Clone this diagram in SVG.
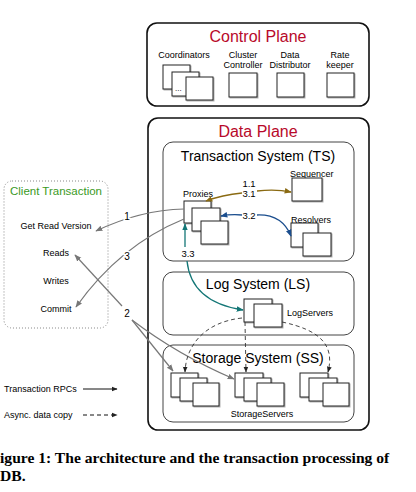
<svg xmlns="http://www.w3.org/2000/svg" width="416" height="492" viewBox="0 0 416 492">
<style>
text{font-family:"Liberation Sans",Arial,sans-serif;fill:#000}
.t9{font-size:9px}
.sm{font-size:9px;text-anchor:middle}
.title{font-size:16px;fill:#b8092a;text-anchor:middle}
.sys{font-size:14px;text-anchor:middle}
.plane{fill:#fff;stroke:#111;stroke-width:1.6}
.sysbox{fill:none;stroke:#444;stroke-width:1}
.box{fill:#fff;stroke:#222;stroke-width:1;filter:drop-shadow(1px 1px 0.6px rgba(0,0,0,0.3))}
.lbl{font-size:10px;text-anchor:middle;stroke:#fff;stroke-width:3;paint-order:stroke}
.num{font-size:9.5px;text-anchor:middle}
.gray{fill:none;stroke:#777;stroke-width:1.2}
.gold{fill:none;stroke:#8a6a12;stroke-width:1.3}
.blue{fill:none;stroke:#1b4e8e;stroke-width:1.3}
.teal{fill:none;stroke:#137676;stroke-width:1.3}
.dash{fill:none;stroke:#333;stroke-width:0.9;stroke-dasharray:4 3}
.leg{fill:none;stroke:#111;stroke-width:1}
.cap{font-family:"Liberation Serif","Times New Roman",serif;font-weight:bold;font-size:15.6px}
</style>
<defs>
<marker id="mg" viewBox="0 0 10 10" refX="9" refY="5" markerWidth="7" markerHeight="7" orient="auto" markerUnits="userSpaceOnUse"><path d="M0,1 L10,5 L0,9 z" fill="#777"/></marker>
<marker id="mo" viewBox="0 0 10 10" refX="9" refY="5" markerWidth="7" markerHeight="7" orient="auto" markerUnits="userSpaceOnUse"><path d="M0,1 L10,5 L0,9 z" fill="#8a6a12"/></marker>
<marker id="mb" viewBox="0 0 10 10" refX="9" refY="5" markerWidth="7" markerHeight="7" orient="auto" markerUnits="userSpaceOnUse"><path d="M0,1 L10,5 L0,9 z" fill="#1b4e8e"/></marker>
<marker id="mt" viewBox="0 0 10 10" refX="9" refY="5" markerWidth="7" markerHeight="7" orient="auto" markerUnits="userSpaceOnUse"><path d="M0,1 L10,5 L0,9 z" fill="#137676"/></marker>
<marker id="mk" viewBox="0 0 10 10" refX="9" refY="5" markerWidth="6" markerHeight="6" orient="auto" markerUnits="userSpaceOnUse"><path d="M0,1 L10,5 L0,9 z" fill="#222"/></marker>
</defs>
<rect width="416" height="492" fill="#fff"/>

<g id="control-plane">
<rect class="plane" x="147" y="23" width="222" height="83" rx="10"/>
<text class="title" x="258" y="42">Control Plane</text>
</g>
<g id="coordinators">
<text class="sm" x="184" y="58">Coordinators</text>
<rect class="box" x="163" y="65" width="27" height="24"/>
<rect class="box" x="172" y="72" width="27" height="24"/>
<text class="t9" x="175" y="91" style="font-size:8px">...</text>
<rect class="box" x="186" y="77" width="27" height="23"/>
</g>
<g id="cluster-controller">
<text class="sm" x="243" y="58">Cluster</text>
<text class="sm" x="243" y="68">Controller</text>
<rect class="box" x="229" y="73" width="28" height="24"/>
</g>
<g id="data-distributor">
<text class="sm" x="290" y="58">Data</text>
<text class="sm" x="290" y="68">Distributor</text>
<rect class="box" x="277" y="73" width="27" height="24"/>
</g>
<g id="ratekeeper">
<text class="sm" x="340" y="58">Rate</text>
<text class="sm" x="340" y="68">keeper</text>
<rect class="box" x="327" y="73" width="27" height="24"/>
</g>

<g id="data-plane">
<rect class="plane" x="148" y="118" width="221" height="312" rx="10"/>
<text class="title" x="258" y="137">Data Plane</text>
</g>
<g id="transaction-system">
<rect class="sysbox" x="163" y="142" width="191" height="119" rx="10"/>
<text class="sys" x="258" y="161">Transaction System (TS)</text>
</g>
<g id="proxies">
<text class="t9" x="183" y="197">Proxies</text>
<rect class="box" x="184" y="201" width="27" height="22"/>
<rect class="box" x="192" y="208" width="28" height="23"/>
<rect class="box" x="201" y="221" width="27" height="23"/>
</g>
<g id="sequencer">
<text class="t9" x="290" y="177">Sequencer</text>
<rect class="box" x="292" y="178" width="30" height="23"/>
</g>
<g id="resolvers">
<text class="t9" x="291" y="223">Resolvers</text>
<rect class="box" x="291" y="223" width="27" height="24"/>
<rect class="box" x="303" y="233" width="28" height="23"/>
</g>
<g id="log-system">
<rect class="sysbox" x="163" y="272" width="191" height="63" rx="10"/>
<text class="sys" x="258" y="289">Log System (LS)</text>
</g>
<g id="logservers">
<rect class="box" x="244" y="299" width="28" height="23"/>
<rect class="box" x="254" y="304" width="28" height="23"/>
<text class="t9" x="287" y="316">LogServers</text>
</g>
<g id="storage-system">
<rect class="sysbox" x="163" y="345" width="191" height="77" rx="10"/>
<text class="sys" x="258" y="363">Storage System (SS)</text>
</g>
<g id="storageservers">
<rect class="box" x="171" y="373" width="27" height="24"/>
<rect class="box" x="180" y="378" width="27" height="23"/>
<rect class="box" x="193" y="383" width="26" height="23"/>
<rect class="box" x="235" y="373" width="28" height="24"/>
<rect class="box" x="244" y="378" width="27" height="23"/>
<rect class="box" x="257" y="383" width="27" height="23"/>
<rect class="box" x="300" y="373" width="28" height="24"/>
<rect class="box" x="309" y="378" width="28" height="23"/>
<rect class="box" x="323" y="383" width="26" height="23"/>
<text class="sm" x="262" y="417">StorageServers</text>
</g>

<g id="client-transaction">
<rect x="4" y="181" width="104" height="147" rx="8" fill="none" stroke="#888" stroke-width="1" stroke-dasharray="1 2"/>
<text x="56" y="195" style="font-size:11.5px;fill:#3a9a1e;text-anchor:middle">Client Transaction</text>
<text class="sm" x="56" y="229">Get Read Version</text>
<text class="sm" x="56" y="256">Reads</text>
<text class="sm" x="56" y="284">Writes</text>
<text class="sm" x="56" y="312">Commit</text>
</g>

<g id="connectors">
<path class="gray" d="M184,209 Q140,210 96,231" marker-end="url(#mg)"/>
<path class="gray" d="M184,219 Q120,245 76,307" marker-end="url(#mg)"/>
<path class="gray" d="M122,306 L75,255" marker-end="url(#mg)"/>
<path class="gray" d="M132,320 L173,371" marker-end="url(#mg)"/>
<path class="gray" d="M132,320 Q178,355 234,379" marker-end="url(#mg)"/>
<text class="lbl" x="127" y="220">1</text>
<text class="lbl" x="127" y="260">3</text>
<text class="lbl" x="127" y="317">2</text>

<path class="gold" d="M242,193 Q222,195 206,201" marker-end="url(#mo)"/>
<path class="gold" d="M257,191 Q276,189 291,192" marker-end="url(#mo)"/>
<text class="num" x="249" y="187">1.1</text>
<text class="num" x="249" y="197">3.1</text>

<path class="blue" d="M242,215 Q231,214 221,216" marker-end="url(#mb)"/>
<path class="blue" d="M257,215 Q282,214 291,236" marker-end="url(#mb)"/>
<text class="num" x="249" y="219">3.2</text>

<path class="teal" d="M185,247 L185,224" marker-end="url(#mt)"/>
<text class="num" x="188" y="257">3.3</text>
<path class="teal" d="M187,261 C190,290 210,305 243,310" marker-end="url(#mt)"/>

<path class="dash" d="M242,318 C205,322 186,345 185,372" marker-end="url(#mk)"/>
<path class="dash" d="M245,322 L246,372" marker-end="url(#mk)"/>
<path class="dash" d="M282,322 C320,330 335,345 328,372" marker-end="url(#mk)"/>
</g>

<g id="legend">
<text class="t9" x="4" y="392">Transaction RPCs</text>
<path class="leg" d="M83,389 L117,389" marker-end="url(#mk)"/>
<text class="t9" x="4" y="418">Async. data copy</text>
<path class="leg" d="M83,415 L117,415" stroke-dasharray="4 3" marker-end="url(#mk)"/>
</g>

<g id="caption">
<text class="cap" x="0" y="463">igure 1: The architecture and the transaction processing of</text>
<text class="cap" x="0" y="481">DB.</text>
</g>
</svg>
